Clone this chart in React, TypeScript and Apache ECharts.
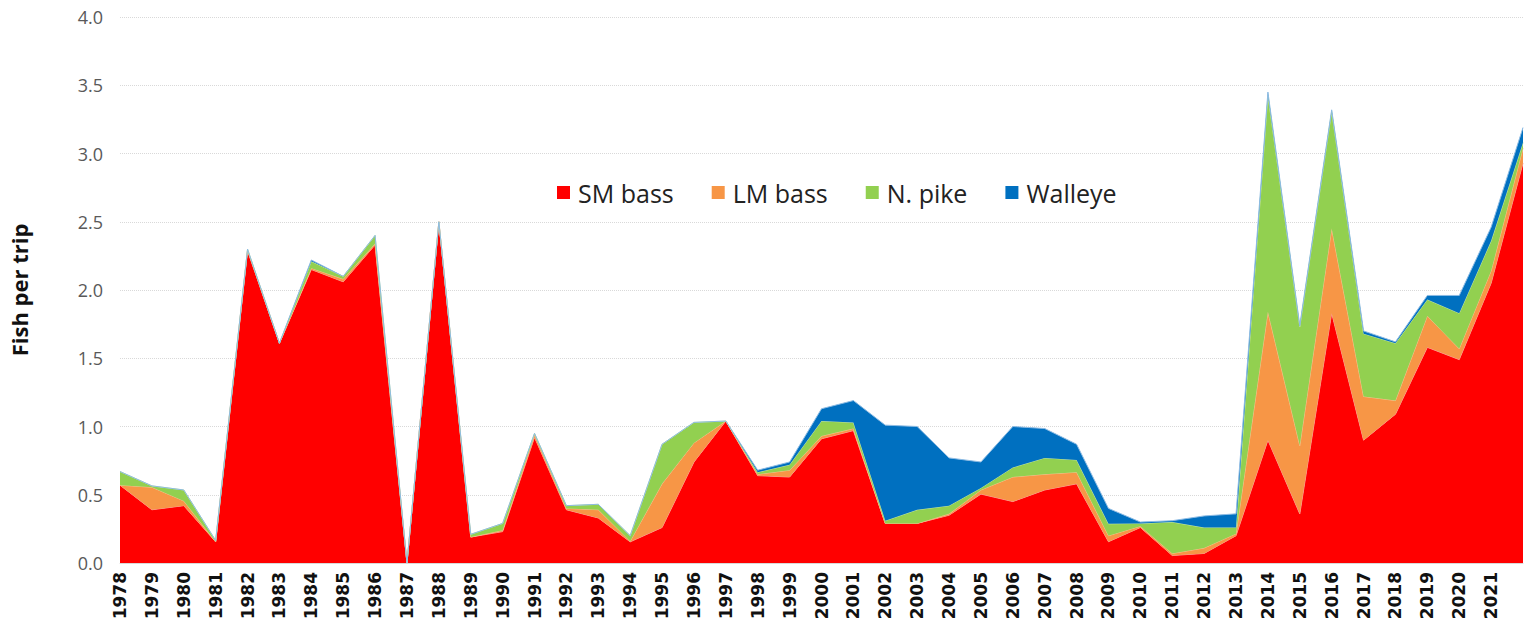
import React, { useEffect, useRef } from "react";
import * as echarts from "echarts";

const years: string[] = [
  "1978","1979","1980","1981","1982","1983","1984","1985","1986","1987",
  "1988","1989","1990","1991","1992","1993","1994","1995","1996","1997",
  "1998","1999","2000","2001","2002","2003","2004","2005","2006","2007",
  "2008","2009","2010","2011","2012","2013","2014","2015","2016","2017",
  "2018","2019","2020","2021","2022",
];

const smBass: number[] = [
  0.57, 0.39, 0.42, 0.155, 2.29, 1.61, 2.15, 2.06, 2.33, 0,
  2.5, 0.19, 0.23, 0.92, 0.39, 0.33, 0.155, 0.26, 0.74, 1.04,
  0.64, 0.63, 0.91, 0.97, 0.29, 0.29, 0.35, 0.505, 0.45, 0.535,
  0.58, 0.156, 0.26, 0.055, 0.07, 0.2, 0.9, 0.36, 1.83, 0.9,
  1.09, 1.58, 1.49, 2.05, 2.93,
];

const lmBass: number[] = [
  0, 0.165, 0.035, 0, 0, 0, 0.01, 0.02, 0.01, 0,
  0, 0, 0.01, 0.02, 0.01, 0.06, 0.005, 0.32, 0.14, 0,
  0.01, 0.05, 0.02, 0.015, 0, 0, 0.01, 0.03, 0.18, 0.115,
  0.085, 0.044, 0.01, 0.015, 0.04, 0.015, 0.94, 0.5, 0.62, 0.32,
  0.1, 0.23, 0.08, 0.09, 0.11,
];

const nPike: number[] = [
  0.1, 0.01, 0.08, 0.01, 0.01, 0, 0.05, 0.02, 0.06, 0,
  0, 0.02, 0.05, 0.01, 0.02, 0.04, 0.04, 0.29, 0.15, 0,
  0.015, 0.04, 0.11, 0.045, 0.02, 0.1, 0.06, 0.015, 0.07, 0.12,
  0.09, 0.087, 0.02, 0.23, 0.15, 0.045, 1.59, 0.87, 0.86, 0.46,
  0.42, 0.12, 0.26, 0.22, 0.04,
];

const walleye: number[] = [
  0, 0, 0, 0, 0, 0, 0.01, 0, 0, 0,
  0, 0, 0, 0, 0, 0, 0, 0, 0, 0,
  0.015, 0.02, 0.09, 0.16, 0.7, 0.61, 0.35, 0.19, 0.3, 0.215,
  0.115, 0.113, 0.01, 0.01, 0.085, 0.1, 0.02, 0.01, 0.01, 0.02,
  0.01, 0.03, 0.13, 0.1, 0.11,
];

const seriesNames = ["SM bass", "LM bass", "N. pike", "Walleye"];
const seriesColors = ["#FF0000", "#F79646", "#92D050", "#0070C0"];
const seriesEdges = ["#FF9A9A", "#FBC08E", "#C5E7A4", "#8DBBE3"];
const seriesData = [smBass, lmBass, nPike, walleye];

export default function App() {
  const ref = useRef<HTMLDivElement>(null);

  useEffect(() => {
    if (!ref.current) return;
    const chart = echarts.init(ref.current, undefined, { renderer: "svg" });
    chart.setOption({
      animation: false,
      backgroundColor: "#ffffff",
      grid: { left: 117, right: 8, top: 17, bottom: 60, containLabel: false },
      legend: {
        left: 552,
        top: 175,
        itemWidth: 13,
        itemHeight: 13,
        itemGap: 38,
        icon: "rect",
        textStyle: { fontFamily: "Open Sans", fontSize: 25, color: "#222222", padding: [0, 0, 0, 3] },
        data: seriesNames,
      },
      xAxis: {
        type: "category",
        data: years,
        boundaryGap: false,
        axisLine: { show: true, lineStyle: { color: "#D9D9D9", width: 1 } },
        axisTick: { show: false },
        axisLabel: {
          rotate: 90,
          interval: 0,
          margin: 9,
          fontFamily: "DejaVu Sans",
          fontWeight: "bold",
          fontSize: 17,
          color: "#111111",
          formatter: (v: string, i: number) => (i === years.length - 1 ? "" : v),
        },
        splitLine: { show: false },
      },
      yAxis: {
        type: "value",
        min: 0,
        max: 4,
        interval: 0.5,
        name: "Fish per trip",
        nameLocation: "middle",
        nameGap: 90,
        nameTextStyle: { fontFamily: "Open Sans", fontWeight: "bold", fontSize: 22, color: "#111111" },
        axisLine: { show: false },
        axisTick: { show: false },
        axisLabel: {
          margin: 17,
          fontFamily: "Open Sans",
          fontSize: 18,
          color: "#595959",
          formatter: (v: number) => v.toFixed(1),
        },
        splitLine: { show: true, lineStyle: { color: "#D9D9D9", width: 1, type: "dotted" } },
      },
      series: seriesNames.map((name, i) => ({
        name,
        type: "line",
        stack: "total",
        data: seriesData[i],
        showSymbol: false,
        symbol: "none",
        itemStyle: { color: seriesColors[i] },
        lineStyle: { width: 1, color: seriesEdges[i] },
        areaStyle: { color: seriesColors[i], opacity: 1 },
        z: 2 + i,
      })),
    });
    return () => chart.dispose();
  }, []);

  return (
    <div
      ref={ref}
      style={{ position: "fixed", left: 0, top: 0, width: 1531, height: 623 }}
    />
  );
}
